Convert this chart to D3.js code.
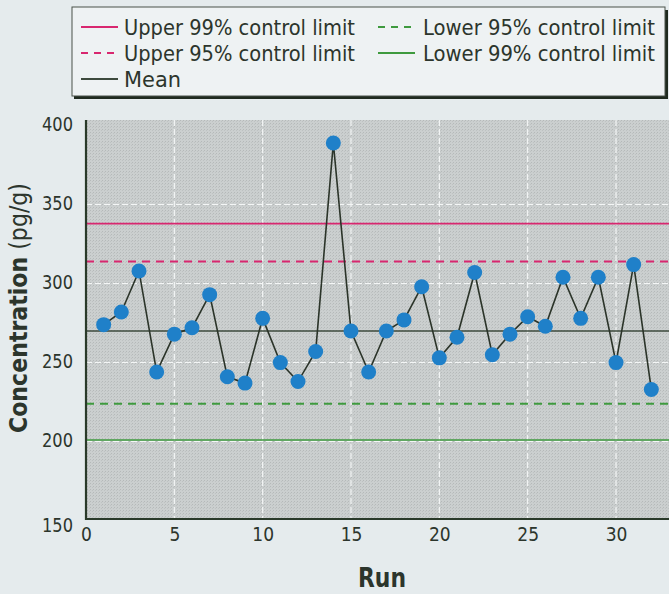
<html>
  <meta charset="UTF-8">
  <head>
    <title>Control chart</title>
    <style>
      body { margin: 0; background: #e5ebed; }
      text { font-family: "DejaVu Sans", sans-serif; font-stretch: condensed; fill: #2c352c; }
      .grid line { stroke: #f4f6f6; stroke-width: 1.2px; stroke-dasharray: 6,3; }
      .tick text { font-size: 19px; }
    </style>
    <script src="https://cdnjs.cloudflare.com/ajax/libs/d3/7.8.5/d3.min.js"></script>
  </head>
  <body>
    <script type="text/javascript">
      /* ==== Data ==== */
      var runs = [1, 2, 3, 4, 5, 6, 7, 8, 9, 10, 11, 12, 13, 14, 15, 16,
                  17, 18, 19, 20, 21, 22, 23, 24, 25, 26, 27, 28, 29, 30, 31, 32];
      var concentration = [273, 281, 307, 243, 267, 271, 292, 240, 236, 277, 249, 237, 256, 388, 269, 243,
                           269, 276, 297, 252, 265, 306, 254, 267, 278, 272, 303, 277, 303, 249, 311, 232];

      var limitNames = ["Upper 99% control limit", "Upper 95% control limit", "Mean",
                        "Lower 95% control limit", "Lower 99% control limit"];
      var limitValues = [337, 313, 269, 223, 200];

      var xTicks = [0, 5, 10, 15, 20, 25, 30];
      var yTicks = [150, 200, 250, 300, 350, 400];

      /* ==== Styles for the limit lines ==== */
      var limitStyle = {
          "Upper 99% control limit": {color: "#d8276f", dash: null, width: 1.8},
          "Upper 95% control limit": {color: "#d8276f", dash: "8,6", width: 2},
          "Mean": {color: "#3d4a3d", dash: null, width: 1.3},
          "Lower 95% control limit": {color: "#3e9a3e", dash: "8,6", width: 2},
          "Lower 99% control limit": {color: "#3e9a3e", dash: null, width: 1.6}
      };

      var width = 669, height = 594;
      var plot = {left: 86, right: 669, top: 120, bottom: 519};

      var x = d3.scaleLinear().domain([0, 33]).range([plot.left, plot.right]);
      var y = d3.scaleLinear().domain([150, 400]).range([519, 124]);

      // Squeeze a text to a given width (the print uses a condensed face)
      function squeeze(sel, w) {
          sel.attr("textLength", w).attr("lengthAdjust", "spacingAndGlyphs");
      }

      var svg = d3.select("body").append("svg")
          .attr("width", width)
          .attr("height", height);

      // Page background
      svg.append("rect")
          .attr("width", width).attr("height", height)
          .attr("fill", "#e5ebed");

      // Stippled plot background
      var defs = svg.append("defs");
      var pat = defs.append("pattern")
          .attr("id", "stipple")
          .attr("width", 3).attr("height", 3)
          .attr("patternUnits", "userSpaceOnUse");
      pat.append("rect").attr("width", 3).attr("height", 3).attr("fill", "#cbcfcf");
      pat.append("rect").attr("width", 1).attr("height", 1).attr("fill", "#b5b9b9");
      pat.append("rect").attr("x", 2).attr("y", 1).attr("width", 1).attr("height", 1).attr("fill", "#bec2c2");

      svg.append("rect")
          .attr("x", plot.left).attr("y", plot.top)
          .attr("width", plot.right - plot.left)
          .attr("height", plot.bottom - plot.top)
          .attr("fill", "url(#stipple)");

      /* ==== Grid ==== */
      svg.append("g")
          .attr("class", "grid")
          .selectAll("line.v")
          .data(xTicks.filter(function(d) { return d > 0; }))
          .enter().append("line")
          .attr("x1", function(d) { return x(d); })
          .attr("x2", function(d) { return x(d); })
          .attr("y1", plot.top)
          .attr("y2", plot.bottom);

      svg.append("g")
          .attr("class", "grid")
          .selectAll("line.h")
          .data(yTicks.filter(function(d) { return d > 150 && d < 400; }))
          .enter().append("line")
          .attr("x1", plot.left)
          .attr("x2", plot.right)
          .attr("y1", function(d) { return y(d) + 1.5; })
          .attr("y2", function(d) { return y(d) + 1.5; });

      /* ==== Control limits ==== */
      svg.append("g")
          .selectAll("line")
          .data(limitNames)
          .enter().append("line")
          .attr("x1", plot.left)
          .attr("x2", plot.right)
          .attr("y1", function(d, i) { return y(limitValues[i]); })
          .attr("y2", function(d, i) { return y(limitValues[i]); })
          .attr("stroke", function(d) { return limitStyle[d].color; })
          .attr("stroke-width", function(d) { return limitStyle[d].width; })
          .attr("stroke-dasharray", function(d) { return limitStyle[d].dash; });

      /* ==== Axes ==== */
      var xAxis = svg.append("g")
          .attr("transform", "translate(0," + plot.bottom + ")")
          .call(d3.axisBottom(x).tickValues(xTicks).tickSize(0).tickPadding(9));
      xAxis.select(".domain").remove();

      var yAxis = svg.append("g")
          .attr("transform", "translate(73,0)")
          .call(d3.axisLeft(y).tickValues(yTicks).tickSize(0).tickPadding(0));
      yAxis.select(".domain").remove();
      yAxis.selectAll(".tick").filter(function(d) { return d === 150; })
          .select("text").attr("dy", "0.65em");
      yAxis.selectAll(".tick text").each(function() { squeeze(d3.select(this), 31); });

      svg.append("path")
          .attr("d", "M" + plot.left + "," + plot.top + "V" + plot.bottom + "H" + plot.right)
          .attr("fill", "none")
          .attr("stroke", "#2a3a2a")
          .attr("stroke-width", 2.2);

      /* ==== Series ==== */
      var line = d3.line()
          .x(function(d, i) { return x(runs[i]); })
          .y(function(d) { return y(d); });

      svg.append("path")
          .datum(concentration)
          .attr("d", line)
          .attr("fill", "none")
          .attr("stroke", "#2b3429")
          .attr("stroke-width", 1.6);

      svg.append("g")
          .selectAll("circle")
          .data(concentration)
          .enter().append("circle")
          .attr("cx", function(d, i) { return x(runs[i]); })
          .attr("cy", function(d) { return y(d); })
          .attr("r", 7.5)
          .attr("fill", "#1f80c9");

      /* ==== Axis titles ==== */
      svg.append("text")
          .attr("x", 382)
          .attr("y", 587)
          .attr("text-anchor", "middle")
          .style("font-size", "27px")
          .style("font-weight", "bold")
          .call(squeeze, 48)
          .text("Run");

      var yTitle = svg.append("text")
          .attr("transform", "translate(27,308) rotate(-90)")
          .attr("text-anchor", "middle")
          .style("font-size", "24px")
          .call(squeeze, 250);
      yTitle.append("tspan").style("font-weight", "bold").text("Concentration");
      yTitle.append("tspan").text(" (pg/g)");

      /* ==== Legend ==== */
      var legend = svg.append("g");
      legend.append("rect")
          .attr("x", 74).attr("y", 10).attr("width", 594).attr("height", 89)
          .attr("fill", "#1f2a1f");
      legend.append("rect")
          .attr("x", 72).attr("y", 7).attr("width", 593).attr("height", 89)
          .attr("fill", "#eef2f3")
          .attr("stroke", "#4a524a")
          .attr("stroke-width", 1);

      var legendPos = [
          {x: 81, y: 27}, {x: 81, y: 53}, {x: 81, y: 79},
          {x: 378, y: 27}, {x: 378, y: 53}
      ];
      var legendTextWidth = [231, 231, 57, 232, 232];

      var item = legend.selectAll("g.item")
          .data(limitNames)
          .enter().append("g")
          .attr("class", "item")
          .attr("transform", function(d, i) {
              return "translate(" + legendPos[i].x + "," + legendPos[i].y + ")";
          });

      item.append("line")
          .attr("x1", 0).attr("x2", 37)
          .attr("stroke", function(d) { return limitStyle[d].color; })
          .attr("stroke-width", 1.8)
          .attr("stroke-dasharray", function(d) { return limitStyle[d].dash ? "7,6" : null; });

      item.append("text")
          .attr("x", function(d, i) { return i < 3 ? 43 : 45; })
          .attr("y", 8)
          .style("font-size", "22px")
          .attr("textLength", function(d, i) { return legendTextWidth[i]; })
          .attr("lengthAdjust", "spacingAndGlyphs")
          .text(function(d) { return d; });
    </script>
  </body>
</html>
